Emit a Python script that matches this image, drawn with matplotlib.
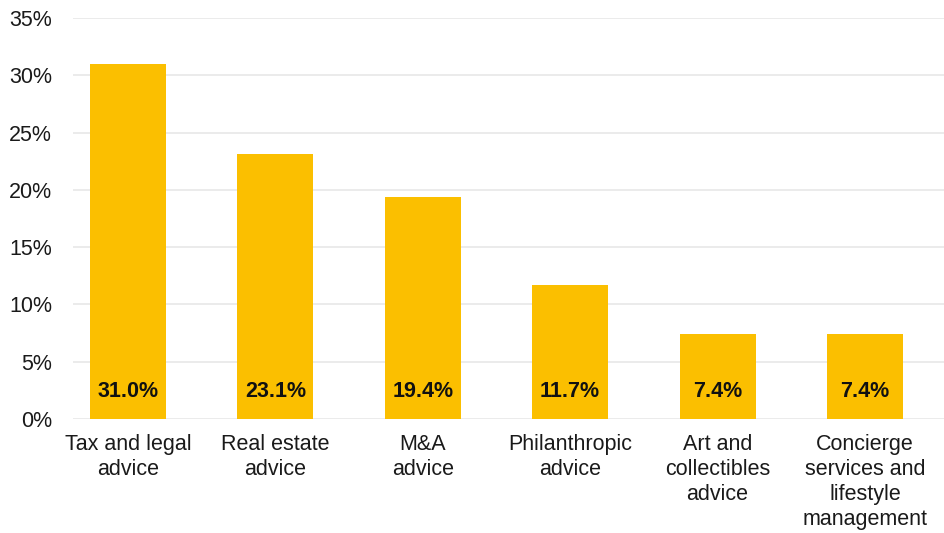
import matplotlib
matplotlib.use("Agg")
import matplotlib.pyplot as plt

plt.rcParams['font.family'] = ['Liberation Sans', 'DejaVu Sans']

categories = ["Tax and legal\nadvice", "Real estate\nadvice", "M&A\nadvice",
              "Philanthropic\nadvice", "Art and\ncollectibles\nadvice",
              "Concierge\nservices and\nlifestyle\nmanagement"]
values = [31.0, 23.1, 19.4, 11.7, 7.4, 7.4]
yticks = [0, 5, 10, 15, 20, 25, 30, 35]

fig = plt.figure(figsize=(9.44, 5.33), dpi=100)
ax = fig.add_axes([0.0773, 0.2139, 0.9227, 0.7523])

x = range(len(values))
ax.bar(x, values, width=0.516, color='#FBBF00', zorder=2)

# percentage labels near the bottom of each bar
for i, v in enumerate(values):
    ax.text(i, 2.4, f"{v:.1f}%", ha='center', va='center',
            fontsize=15.5, fontweight='bold', color='#111111', zorder=3)

ax.set_xlim(-0.373, 5.536)
ax.set_ylim(0, 35)
ax.set_yticks(yticks)
ax.set_yticklabels([f"{t}%" for t in yticks])
ax.set_xticks(list(x))
ax.set_xticklabels(categories, linespacing=1.25)

ax.grid(axis='y', color='#e8e8e8', linewidth=1.2, zorder=0)
for s in ax.spines.values():
    s.set_visible(False)
ax.tick_params(axis='both', length=0, labelsize=15.5, colors='#1a1a1a')
ax.tick_params(axis='y', pad=15)
ax.tick_params(axis='x', pad=10.5)

fig.savefig("out.png", dpi=100)
